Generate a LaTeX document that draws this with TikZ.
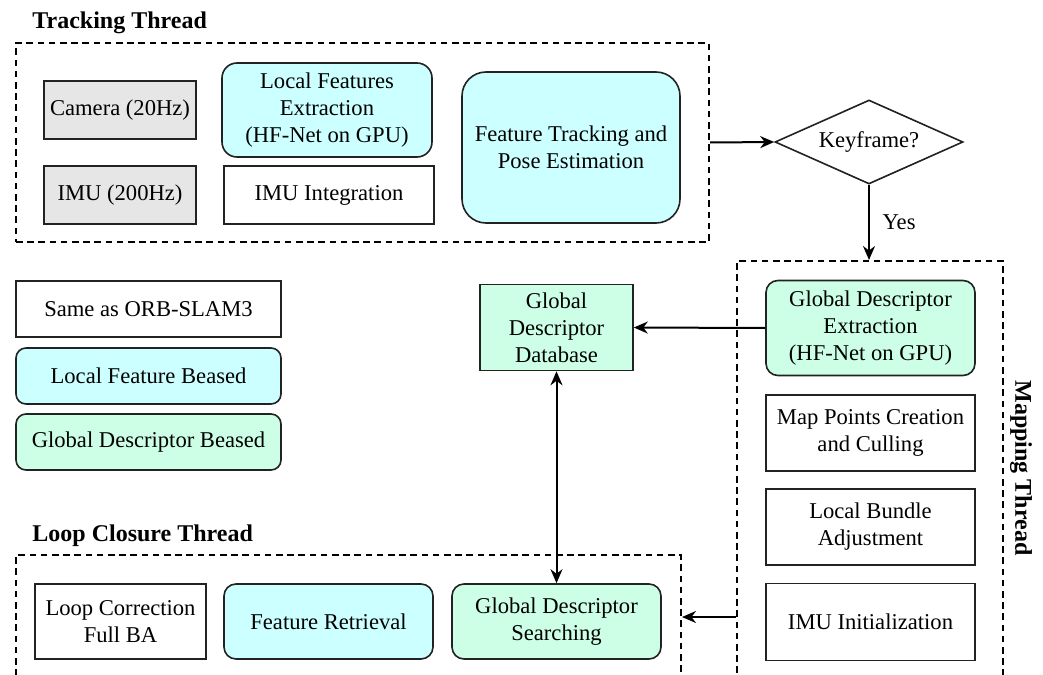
\documentclass[tikz,border=0pt]{standalone}
\usepackage{fontspec}
\setmainfont{Liberation Serif}
\usetikzlibrary{arrows.meta,shapes.geometric}
\definecolor{cyanfill}{HTML}{CCFFFF}
\definecolor{greenfill}{HTML}{CCFFE6}
\definecolor{grayfill}{HTML}{E6E6E6}
\definecolor{edge}{HTML}{222222}
\begin{document}
\begin{tikzpicture}[x=0.5pt,y=-0.5pt,
  base/.style={draw=edge, line width=0.8pt, align=center, inner sep=1pt,
    font=\fontsize{11.3}{13.5}\selectfont},
  plain/.style={base, rectangle},
  grayb/.style={base, rectangle, fill=grayfill},
  cyanb/.style={base, rectangle, rounded corners=6pt, fill=cyanfill},
  greenb/.style={base, rectangle, rounded corners=6pt, fill=greenfill},
  greenr/.style={base, rectangle, fill=greenfill},
  frame/.style={draw=black, line width=1pt, dash pattern=on 3.3pt off 2.3pt, rectangle, inner sep=0pt},
  title/.style={font=\fontsize{12}{14}\selectfont\bfseries, inner sep=0pt},
  arr/.style={draw=black, line width=1pt, -{Stealth[length=7pt,width=6pt]}},
  darr/.style={draw=black, line width=1pt, {Stealth[length=7pt,width=6pt]}-{Stealth[length=7pt,width=6pt]}},
]
\useasboundingbox (0,0) rectangle (1043,674);
% frames
\node[frame, minimum width=346.5pt, minimum height=99.5pt] (trk) at (362.5,142.5) {};
\node[frame, minimum width=133pt, minimum height=214.5pt] (map) at (870,475.5) {};
\node[frame, minimum width=332.5pt, minimum height=67.5pt] (loop) at (348.5,622.5) {};
% titles
\node[title, anchor=west] (ttrk) at (32,23) {Tracking Thread};
\node[title, anchor=west] (tloop) at (32,536) {Loop Closure Thread};
\node[title, rotate=-90] (tmap) at (1021,468) {Mapping Thread};
% tracking
\node[grayb, minimum width=76pt, minimum height=29pt] (cam) at (120,110) {Camera (20Hz)};
\node[grayb, minimum width=76pt, minimum height=29pt] (imu) at (120,195) {IMU (200Hz)};
\node[cyanb, minimum width=105pt, minimum height=47pt, rounded corners=7.5pt] (lfe) at (327,110) {Local Features\\Extraction\\(HF-Net on GPU)};
\node[plain, minimum width=105pt, minimum height=29pt] (imuint) at (329,195) {IMU Integration};
\node[cyanb, minimum width=109pt, minimum height=75.5pt, rounded corners=12pt] (ftpe) at (571,147.5) {Feature Tracking and\\Pose Estimation};
\node[base, shape=diamond, aspect=2.24, inner sep=0pt, minimum width=94pt, minimum height=42pt] (key) at (869,142) {Keyframe?};
% mapping
\node[greenb, minimum width=104.5pt, minimum height=47.5pt] (gde) at (870.5,328) {Global Descriptor\\Extraction\\(HF-Net on GPU)};
\node[plain, minimum width=104.5pt, minimum height=38pt] (mpc) at (870.5,433) {Map Points Creation\\and Culling};
\node[plain, minimum width=104.5pt, minimum height=38pt] (lba) at (870.5,527) {Local Bundle\\Adjustment};
\node[plain, minimum width=104.5pt, minimum height=38.5pt] (imuinit) at (870.5,622) {IMU Initialization};
% database
\node[greenr, minimum width=76.5pt, minimum height=43pt] (gddb) at (556.5,327.5) {Global\\Descriptor\\Database};
% legend
\node[plain, minimum width=132.5pt, minimum height=28pt] (same) at (148.5,309) {Same as ORB-SLAM3};
\node[cyanb, minimum width=132.5pt, minimum height=28pt, rounded corners=5pt] (lfb) at (148.5,376) {Local Feature Beased};
\node[greenb, minimum width=132.5pt, minimum height=28pt, rounded corners=5pt] (gdb) at (148.5,442) {Global Descriptor Beased};
% loop closure
\node[plain, minimum width=85.5pt, minimum height=37.5pt] (lcfb) at (120.5,621.5) {Loop Correction\\Full BA};
\node[cyanb, minimum width=104.5pt, minimum height=37.5pt] (fr) at (328.5,621.5) {Feature Retrieval};
\node[greenb, minimum width=104.5pt, minimum height=37.5pt] (gds) at (556.5,621.5) {Global Descriptor\\Searching};
% connectors
\draw[arr] (trk.east) -- (key.west);
\draw[arr] (key.south) -- node[right, xshift=3pt, font=\fontsize{11.3}{13.5}\selectfont] (yes) {Yes} (key.south |- map.north);
\draw[arr] (gde.west) -- (gddb.east);
\draw[darr] (gddb.south) -- (gds.north);
\draw[arr] (map.west |- 0,617) -- (loop.east |- 0,617);
\end{tikzpicture}
\end{document}
